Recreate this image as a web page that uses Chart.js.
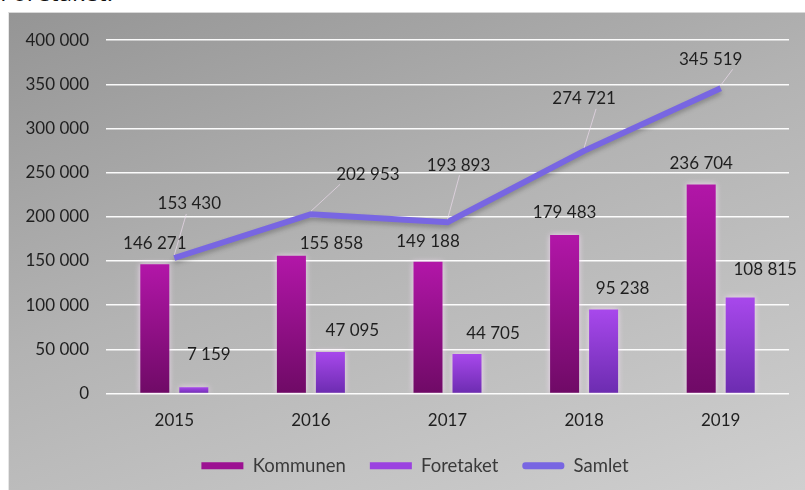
<!DOCTYPE html>
<html>
<head>
<meta charset="utf-8">
<script src="https://cdn.jsdelivr.net/npm/chart.js@4.4.1/dist/chart.umd.min.js"></script>
<style>
  html, body { margin: 0; padding: 0; background: #fff; }
  body { width: 805px; height: 490px; position: relative; overflow: hidden; }
  #heading { position: absolute; left: 0; top: -25px; font: 24px "Open Sans", sans-serif; color: #111; }
  #panel {
    position: absolute; left: 8px; top: 12px; width: 797px; height: 478px;
    background: linear-gradient(160deg, #959595 0%, #b3b3b3 45%, #cfcfcf 100%);
    border-left: 1px solid #e6e6e6; border-top: 1px solid #d8d8d8; box-sizing: border-box;
  }
  #panel canvas { position: absolute; left: 0; top: 0; }
</style>
</head>
<body>
<div id="heading">Foretaket:</div>
<div id="panel"><canvas id="chart" width="797" height="478"></canvas></div>
<script>
const years = ['2015', '2016', '2017', '2018', '2019'];
const kommunen = [146271, 155858, 149188, 179483, 236704];
const foretaket = [7159, 47095, 44705, 95238, 108815];
const samlet = [153430, 202953, 193893, 274721, 345519];
const yTicks = [0, 50000, 100000, 150000, 200000, 250000, 300000, 350000, 400000];

// label nudges (dx, dy from the top of each mark), as placed in the original
const kommunenNudge = [[0, -21], [40, -12], [0, -20], [0, -22], [0, -21]];
const foretaketNudge = [[15, -33], [22, -21], [26, -20], [19, -21], [25, -28]];
const samletNudge = [[15, -54], [57, -40], [11, -57], [0, -52], [-10, -29]];

function fmt(v) {
  return String(v).replace(/\B(?=(\d{3})+(?!\d))/g, ' ');
}

function barGradient(top, bottom) {
  return function (c) {
    const chart = c.chart;
    if (!chart.chartArea || c.type !== 'data') return top;
    const y = chart.scales.y;
    const y0 = y.getPixelForValue(c.raw);
    const y1 = y.getPixelForValue(0);
    const g = chart.ctx.createLinearGradient(0, y0, 0, y1);
    g.addColorStop(0, top);
    g.addColorStop(1, bottom);
    return g;
  };
}

const glow = {
  id: 'glow',
  beforeDatasetDraw(chart, args) {
    const ctx = chart.ctx;
    ctx.save();
    if (args.meta.type === 'bar') {
      ctx.shadowColor = 'rgba(255,225,255,0.75)';
      ctx.shadowBlur = 6;
    } else {
      ctx.shadowColor = 'rgba(60,60,60,0.35)';
      ctx.shadowBlur = 4;
      ctx.shadowOffsetY = 3;
    }
  },
  afterDatasetDraw(chart) {
    chart.ctx.restore();
  }
};

// the original legend sits a little right of centre
const legendShift = {
  id: 'legendShift',
  afterLayout(chart) {
    chart.legend.left += 16;
    chart.legend.right += 16;
  }
};

const valueLabels = {
  id: 'valueLabels',
  afterDatasetsDraw(chart) {
    const ctx = chart.ctx;
    const nudges = [kommunenNudge, foretaketNudge, samletNudge];
    ctx.save();
    ctx.font = '17px Lato, sans-serif';
    ctx.textAlign = 'center';
    ctx.textBaseline = 'middle';
    chart.data.datasets.forEach((ds, i) => {
      const meta = chart.getDatasetMeta(i);
      meta.data.forEach((el, j) => {
        const lx = el.x + nudges[i][j][0];
        const ly = el.y + nudges[i][j][1];
        const text = fmt(ds.data[j]);
        if (i === 2) {
          const w = ctx.measureText(text).width;
          const ex = Math.min(Math.max(el.x + 12, lx - w / 2 + 4), lx + w / 2 - 4);
          ctx.strokeStyle = 'rgba(245,225,245,0.6)';
          ctx.lineWidth = 1;
          ctx.beginPath();
          ctx.moveTo(el.x, el.y - 3);
          ctx.lineTo(ex, ly + 10);
          ctx.stroke();
        }
        ctx.fillStyle = '#1f1f1f';
        ctx.fillText(text, lx, ly);
      });
    });
    ctx.restore();
  }
};

const legendColors = ['#9c1192', '#9b42e0', '#7866e2'];

new Chart(document.getElementById('chart').getContext('2d'), {
  type: 'bar',
  data: {
    labels: years,
    datasets: [{
      label: 'Kommunen',
      data: kommunen,
      backgroundColor: barGradient('#b216a8', '#6f0a66'),
      categoryPercentage: 0.571,
      barPercentage: 0.744,
      order: 2
    }, {
      label: 'Foretaket',
      data: foretaket,
      backgroundColor: barGradient('#a848ec', '#6c2cb0'),
      categoryPercentage: 0.571,
      barPercentage: 0.744,
      order: 2
    }, {
      type: 'line',
      label: 'Samlet',
      data: samlet,
      borderColor: '#7866e2',
      backgroundColor: '#7866e2',
      borderWidth: 6,
      pointRadius: 0,
      tension: 0,
      order: 1
    }]
  },
  options: {
    responsive: false,
    animation: false,
    layout: { padding: { top: 22, right: 17, bottom: 6, left: 0 } },
    scales: {
      x: {
        grid: { display: false },
        border: { display: false },
        ticks: { color: '#1f1f1f', font: { family: 'Lato', size: 17 }, padding: 9 },
        afterFit(s) { s.height = 39; }
      },
      y: {
        min: 0,
        max: 400000,
        afterBuildTicks(s) { s.ticks = yTicks.map(v => ({ value: v })); },
        grid: { color: 'rgba(255,255,255,0.95)', lineWidth: 1.5, drawTicks: false, tickLength: 0 },
        border: { display: false },
        ticks: {
          color: '#1f1f1f',
          font: { family: 'Lato', size: 17 },
          padding: 17,
          callback: v => fmt(v)
        },
        afterFit(s) { s.width = 97; }
      }
    },
    plugins: {
      tooltip: { enabled: false },
      legend: {
        position: 'bottom',
        labels: {
          boxWidth: 42,
          boxHeight: 7,
          padding: 24,
          color: '#3a3a3a',
          font: { family: 'Lato', size: 18.5 },
          useBorderRadius: true,
          generateLabels(chart) {
            return chart.data.datasets.map((ds, i) => ({
              text: ds.label,
              fillStyle: legendColors[i],
              strokeStyle: legendColors[i],
              lineWidth: 0,
              borderRadius: i === 2 ? 3 : 0,
              fontColor: '#3a3a3a',
              datasetIndex: i,
              hidden: false
            }));
          }
        }
      }
    }
  },
  plugins: [legendShift, glow, valueLabels]
});
</script>
</body>
</html>
